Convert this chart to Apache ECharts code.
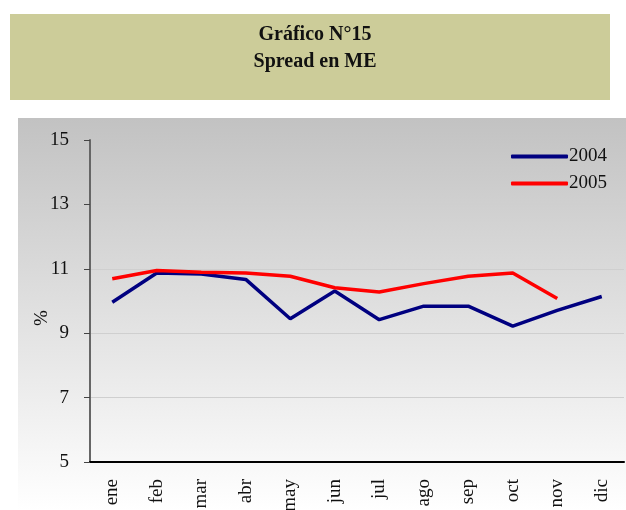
<!DOCTYPE html>
<html>
<head>
<meta charset="utf-8">
<script src="https://cdn.jsdelivr.net/npm/echarts@6/dist/echarts.min.js"></script>
<style>
  html, body { margin: 0; padding: 0; background: #fff; }
  #chart { width: 626px; height: 510px; }
</style>
</head>
<body>
<div id="chart"></div>
<script>
  // datos
  var meses = ['ene', 'feb', 'mar', 'abr', 'may', 'jun', 'jul', 'ago', 'sep', 'oct', 'nov', 'dic'];
  var spread2004 = [9.96, 10.87, 10.84, 10.67, 9.45, 10.31, 9.42, 9.84, 9.84, 9.22, 9.71, 10.14];
  var spread2005 = [10.69, 10.95, 10.89, 10.87, 10.77, 10.41, 10.28, 10.54, 10.77, 10.87, 10.08];
  var ticksY = [5, 7, 9, 11, 13, 15];

  var serif = '"Liberation Serif", "DejaVu Serif", serif';

  var myChart = echarts.init(document.getElementById('chart'));
  var option = {
    backgroundColor: '#fff',
    animation: false,
    graphic: [
      { // caja del título
        type: 'rect', z: -10, silent: true,
        shape: { x: 10, y: 14, width: 600, height: 86 },
        style: { fill: '#cccc99' }
      },
      { // fondo degradado
        type: 'rect', z: -10, silent: true,
        shape: { x: 18, y: 118, width: 608, height: 392 },
        style: {
          fill: new echarts.graphic.LinearGradient(0, 0, 0, 1, [
            { offset: 0, color: '#c2c2c2' },
            { offset: 1, color: '#ffffff' }
          ])
        }
      },
      {
        type: 'text', silent: true,
        x: 42, y: 318, rotation: Math.PI / 2,
        style: { text: '%', font: '19px ' + serif, fill: '#111', align: 'center', verticalAlign: 'middle' }
      }
    ],
    title: {
      text: 'Gráfico N°15\nSpread en ME',
      left: 310, top: 16, textAlign: 'center',
      textStyle: { fontFamily: serif, fontWeight: 'bold', fontSize: 20, lineHeight: 27, color: '#111' }
    },
    legend: {
      data: ['2004', '2005'],
      orient: 'vertical',
      left: 506, top: 142,
      itemWidth: 57, itemHeight: 4, itemGap: 8,
      icon: 'roundRect',
      textStyle: { fontFamily: serif, fontSize: 19, color: '#111', padding: [0, 0, 0, -4] }
    },
    grid: { left: 90, right: 2, top: 140, bottom: 48, outerBoundsMode: 'none' },
    xAxis: {
      type: 'category',
      data: meses,
      boundaryGap: true,
      axisLine: { lineStyle: { color: '#000', width: 2 } },
      axisTick: { length: 7, lineStyle: { color: '#000', width: 2 } },
      axisLabel: { rotate: 90, margin: 17, fontFamily: serif, fontSize: 19, color: '#111', hideOverlap: false },
      splitLine: { show: false }
    },
    yAxis: {
      type: 'value',
      min: 5, max: 15, interval: 2,
      axisLine: { show: true, lineStyle: { color: '#666', width: 2 } },
      axisTick: { show: true, inside: false, length: 6, lineStyle: { color: '#444' } },
      axisLabel: {
        margin: 21, fontFamily: serif, fontSize: 19, color: '#111',
        formatter: function (v) { return ticksY.indexOf(v) >= 0 ? String(v) : ''; }
      },
      splitLine: { show: true, showMaxLine: false, lineStyle: { color: '#cfcfcf', width: 1 } }
    },
    series: [
      {
        name: '2004', type: 'line', data: spread2004,
        symbol: 'none', lineStyle: { color: '#000080', width: 3.5 },
        itemStyle: { color: '#000080' }
      },
      {
        name: '2005', type: 'line', data: spread2005,
        symbol: 'none', lineStyle: { color: '#ff0000', width: 3.5 },
        itemStyle: { color: '#ff0000' }
      }
    ]
  };
  myChart.setOption(option);
</script>
</body>
</html>
